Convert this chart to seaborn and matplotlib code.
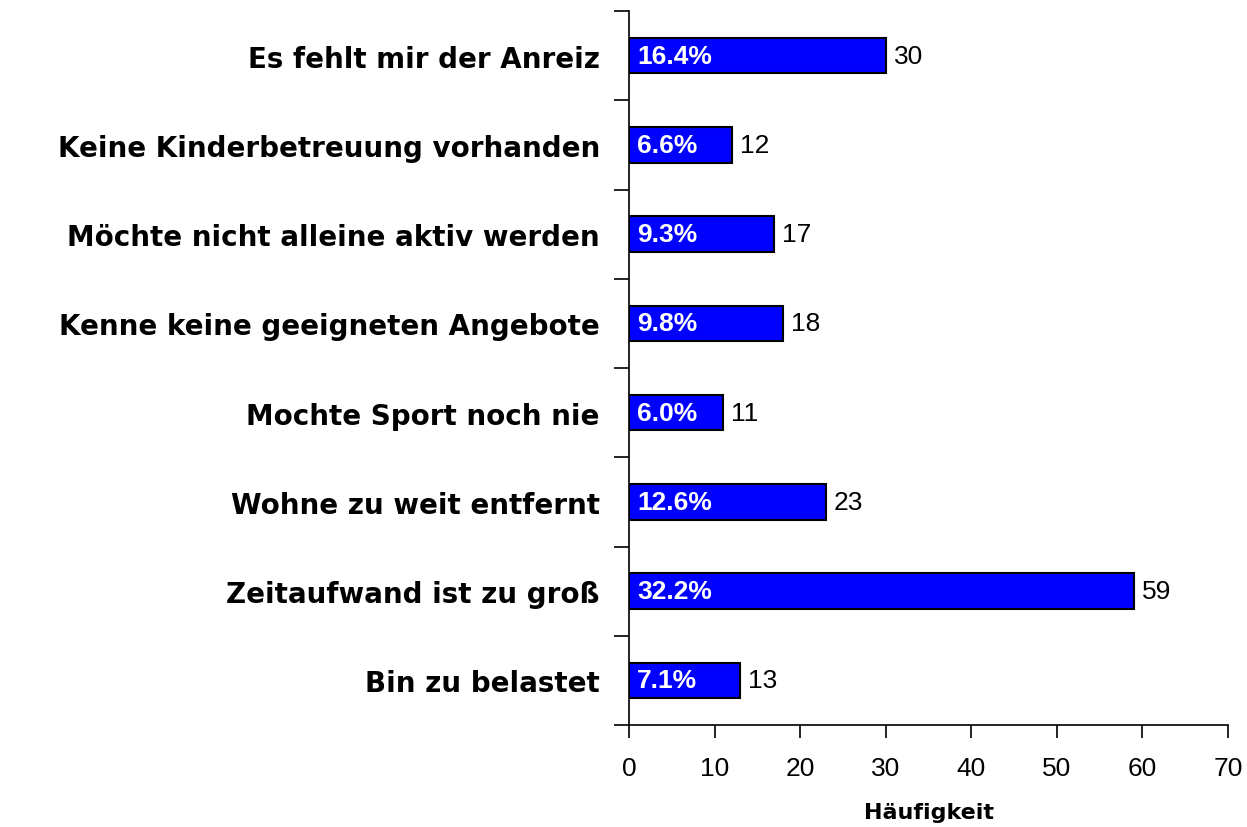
import matplotlib
matplotlib.use("Agg")
import matplotlib.pyplot as plt
import seaborn as sns
import pandas as pd

categories = [
    "Es fehlt mir der Anreiz",
    "Keine Kinderbetreuung vorhanden",
    "Möchte nicht alleine aktiv werden",
    "Kenne keine geeigneten Angebote",
    "Mochte Sport noch nie",
    "Wohne zu weit entfernt",
    "Zeitaufwand ist zu groß",
    "Bin zu belastet",
]
counts = [30, 12, 17, 18, 11, 23, 59, 13]
percents = ["16.4%", "6.6%", "9.3%", "9.8%", "6.0%", "12.6%", "32.2%", "7.1%"]
x_ticks = [0, 10, 20, 30, 40, 50, 60, 70]

sns.set_style("white")
plt.rcParams["font.family"] = ["Liberation Sans", "DejaVu Sans"]
plt.rcParams["text.color"] = "black"
plt.rcParams["xtick.color"] = "black"
plt.rcParams["ytick.color"] = "black"
plt.rcParams["axes.labelcolor"] = "black"

df = pd.DataFrame({"cat": categories, "count": counts})

fig = plt.figure(figsize=(12.47, 8.28), dpi=100)
ax = fig.add_axes([629 / 1247, 1 - 726 / 828, (1228 - 629) / 1247, (726 - 12) / 828])

sns.barplot(data=df, x="count", y="cat", orient="h", color="#0000FF",
            saturation=1, width=0.4, edgecolor="black", linewidth=1.5, ax=ax)

for i, (c, p) in enumerate(zip(counts, percents)):
    ax.annotate(p, xy=(0, i), xytext=(8, 0), textcoords="offset pixels",
                ha="left", va="center", color="white", fontsize=19, fontweight="bold")
    ax.annotate(str(c), xy=(c, i), xytext=(8, 0), textcoords="offset pixels",
                ha="left", va="center", color="black", fontsize=19)

ax.set_xlim(0, 70)
ax.set_ylim(7.5, -0.5)
ax.set_xticks(x_ticks)
ax.set_xticklabels([str(t) for t in x_ticks], fontsize=19)
ax.set_yticks(range(len(categories)))
ax.set_yticklabels(categories, fontsize=20, fontweight="bold", family="DejaVu Sans")
ax.set_yticks([i - 0.5 for i in range(len(categories) + 1)], minor=True)
ax.tick_params(axis="y", which="major", left=True, length=0, pad=21)
ax.tick_params(axis="y", which="minor", left=True, length=11, width=1.2, color="black", direction="out")
ax.tick_params(axis="x", which="major", bottom=True, length=9, width=1.2, color="black", direction="out", pad=13)
ax.set_ylabel("")
ax.set_xlabel("Häufigkeit", fontsize=16, fontweight="bold", family="DejaVu Sans")
ax.xaxis.set_label_coords(0.5, -0.108)

for s in ["top", "right"]:
    ax.spines[s].set_visible(False)
for s in ["left", "bottom"]:
    ax.spines[s].set_color("black")
    ax.spines[s].set_linewidth(1.2)

fig.savefig("out.png", dpi=100)
